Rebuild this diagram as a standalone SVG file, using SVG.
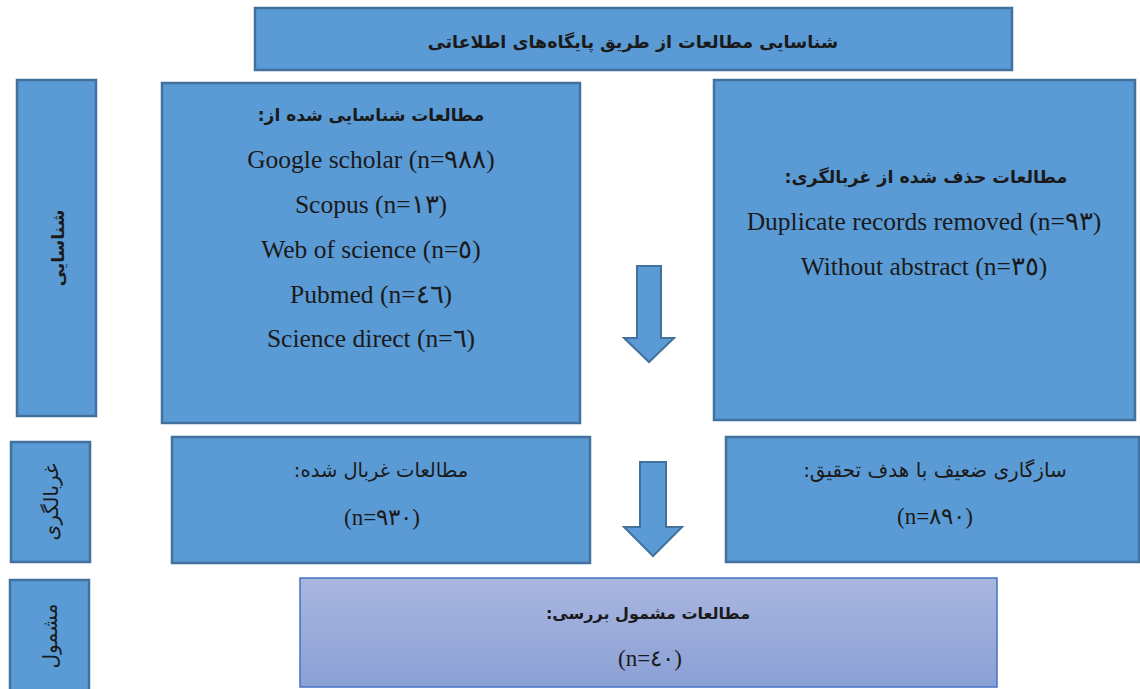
<svg xmlns="http://www.w3.org/2000/svg" width="1140" height="689" viewBox="0 0 1140 689">
<defs>
<linearGradient id="g1" x1="0" y1="0" x2="0" y2="1">
<stop offset="0" stop-color="#a9b6df"/>
<stop offset="1" stop-color="#8ba0d6"/>
</linearGradient>
</defs>
<style>
.box{fill:#5b9bd5;stroke:#41719c;stroke-width:2.5}
.fin{fill:url(#g1);stroke:#4472c4;stroke-width:1.5}
.arr{fill:#5b9bd5;stroke:#41719c;stroke-width:2}
.fa{font-family:"DejaVu Sans","Noto Sans",sans-serif;fill:#1a1a1a;text-anchor:middle}
.b{font-weight:bold}
.en{font-family:"Liberation Serif",serif;font-size:25.5px;fill:#1a1a1a;text-anchor:middle}
.num{font-family:"Liberation Serif",serif;font-size:23px;fill:#1a1a1a;text-anchor:middle}
</style>
<rect width="1140" height="689" fill="#ffffff"/>
<g id="title"><rect class="box" x="255" y="8" width="757" height="62"/>
<text class="fa b" x="633" y="48" font-size="17.5" direction="rtl">شناسایی مطالعات از طریق پایگاه‌های اطلاعاتی</text></g>
<g id="lbl1"><rect class="box" x="17" y="80" width="79" height="336"/>
<text class="fa b" font-size="17" direction="rtl" transform="translate(64,248) rotate(-90)">شناسایی</text></g>
<g id="lbl2"><rect class="box" x="11" y="442" width="79" height="120"/>
<text class="fa" font-size="20" direction="rtl" transform="translate(58,502) rotate(-90)">غربالگری</text></g>
<g id="lbl3"><rect class="box" x="10" y="580" width="79" height="112"/>
<text class="fa" font-size="20" direction="rtl" transform="translate(57,636) rotate(-90)">مشمول</text></g>
<g id="identified"><rect class="box" x="162" y="83" width="418" height="340"/>
<text class="fa b" x="371" y="121" font-size="17" direction="rtl">مطالعات شناسایی شده از:</text>
<text class="en" x="371" y="168">Google scholar (n=٩٨٨)</text>
<text class="en" x="371" y="213">Scopus (n=١٣)</text>
<text class="en" x="371" y="258">Web of science (n=٥)</text>
<text class="en" x="371" y="303">Pubmed (n=٤٦)</text>
<text class="en" x="371" y="347">Science direct (n=٦)</text></g>
<g id="removed"><rect class="box" x="714" y="80" width="421" height="340"/>
<text class="fa b" x="926" y="183" font-size="17.5" direction="rtl">مطالعات حذف شده از غربالگری:</text>
<text class="en" x="924" y="230">Duplicate records removed (n=٩٣)</text>
<text class="en" x="924" y="275">Without abstract (n=٣٥)</text></g>
<g id="screened"><rect class="box" x="172" y="437" width="418" height="126"/>
<text class="fa" x="381" y="477" font-size="19.5" direction="rtl">مطالعات غربال شده:</text>
<text class="num" x="382" y="525">(n=٩٣٠)</text></g>
<g id="excluded"><rect class="box" x="726" y="437" width="413" height="125"/>
<text class="fa" x="935" y="477" font-size="20" direction="rtl">سازگاری ضعیف با هدف تحقیق:</text>
<text class="num" x="935" y="524">(n=٨٩٠)</text></g>
<g id="included"><rect class="fin" x="300" y="578" width="697" height="109"/>
<text class="fa b" x="648" y="619" font-size="16" direction="rtl">مطالعات مشمول بررسی:</text>
<text class="num" x="650" y="666">(n=٤٠)</text></g>
<g id="connectors">
<path class="arr" d="M637,266 H661 V338 H674 L649,362 L624,338 H637 Z"/>
<path class="arr" d="M640,462 H666 V527 H682 L653,556 L624,527 H640 Z"/>
</g>
</svg>
